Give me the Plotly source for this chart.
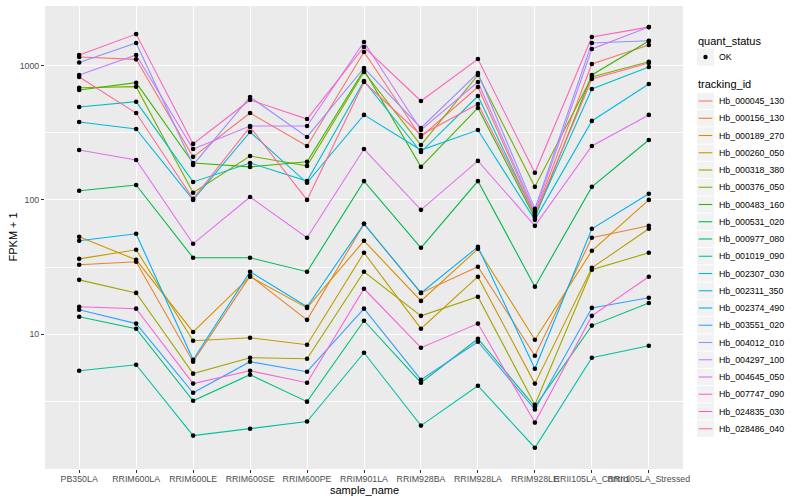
import plotly.graph_objects as go

categories = ["PB350LA", "RRIM600LA", "RRIM600LE", "RRIM600SE", "RRIM600PE",
              "RRIM901LA", "RRIM928BA", "RRIM928LA", "RRIM928LE",
              "RRII105LA_Control", "RRII105LA_Stressed"]

tracking_ids = ["Hb_000045_130", "Hb_000156_130", "Hb_000189_270", "Hb_000260_050",
                "Hb_000318_380", "Hb_000376_050", "Hb_000483_160", "Hb_000531_020",
                "Hb_000977_080", "Hb_001019_090", "Hb_002307_030", "Hb_002311_350",
                "Hb_002374_490", "Hb_003551_020", "Hb_004012_010", "Hb_004297_100",
                "Hb_004645_050", "Hb_007747_090", "Hb_024835_030", "Hb_028486_040"]

colors = ["#F8766D", "#EA8331", "#D89000", "#C09B00", "#A3A500", "#7CAE00", "#39B600",
          "#00BB4E", "#00BF7D", "#00C1A3", "#00BFC4", "#00BAE0", "#00B0F6", "#35A2FF",
          "#9590FF", "#C77CFF", "#E76BF3", "#FA62DB", "#FF62BC", "#FF6C91"]

# FPKM + 1 per sample (order of categories)
hb_000045_130 = [1156, 1112, 209, 443, 252, 1260, 294, 692, 78.7, 1026, 1420]
hb_000156_130 = [32.9, 34.6, 6.25, 27.2, 12.8, 66.3, 20.3, 31.8, 6.92, 52.2, 64.1]
hb_000189_270 = [53.1, 35.8, 10.4, 26.8, 15.7, 49.6, 17.7, 43.2, 9.1, 41.8, 100]
hb_000260_050 = [36.4, 42.5, 8.95, 9.42, 8.36, 40.4, 11.0, 26.8, 4.29, 31.2, 60.9]
hb_000318_380 = [25.4, 20.3, 5.09, 6.69, 6.57, 29.2, 13.7, 19.0, 2.99, 30.2, 40.4]
hb_000376_050 = [684, 696, 113, 212, 179, 895, 256, 850, 125, 821, 1067]
hb_000483_160 = [658, 745, 188, 176, 192, 926, 176, 483, 73.5, 850, 1521]
hb_000531_020 = [117, 129, 37.1, 37.1, 29.2, 138, 44, 138, 22.6, 125, 279]
hb_000977_080 = [13.5, 11.0, 3.20, 5.00, 3.15, 12.6, 4.36, 9.26, 2.89, 11.6, 17.1]
hb_001019_090 = [5.35, 5.93, 1.76, 1.98, 2.24, 7.28, 2.09, 4.14, 1.43, 6.69, 8.21]
hb_002307_030 = [491, 538, 136, 188, 138, 767, 227, 593, 76, 669, 975]
hb_002311_350 = [380, 337, 100, 320, 134, 429, 235, 331, 71, 387, 728]
hb_002374_490 = [49.6, 55.9, 6.46, 29.2, 16.0, 66.3, 20.3, 44.7, 5.54, 60.9, 111]
hb_003551_020 = [15.2, 12.0, 3.67, 6.25, 5.26, 15.5, 4.59, 8.80, 2.75, 15.7, 18.7]
hb_004012_010 = [1052, 1470, 182, 583, 294, 958, 343, 880, 85.7, 1470, 1529]
hb_004297_100 = [850, 1197, 239, 355, 355, 1496, 331, 754, 81.4, 1327, 1932]
hb_004645_050 = [235, 198, 47.1, 105, 52.2, 239, 84.3, 195, 64.1, 252, 429]
hb_007747_090 = [16.0, 15.5, 4.29, 5.35, 4.36, 21.8, 7.94, 12.0, 2.20, 13.7, 26.8]
hb_024835_030 = [1197, 1714, 261, 554, 400, 1373, 545, 1117, 159, 1629, 1932]
hb_028486_040 = [821, 443, 101.7, 349, 100, 754, 304, 517, 77.3, 794, 1044]

series = [hb_000045_130, hb_000156_130, hb_000189_270, hb_000260_050, hb_000318_380,
          hb_000376_050, hb_000483_160, hb_000531_020, hb_000977_080, hb_001019_090,
          hb_002307_030, hb_002311_350, hb_002374_490, hb_003551_020, hb_004012_010,
          hb_004297_100, hb_004645_050, hb_007747_090, hb_024835_030, hb_028486_040]

y_ticks = [10, 100, 1000]
y_tick_labels = ["10", "100", "1000"]
y_minor = [3.1623, 31.623, 316.23]

FONT = "Liberation Sans, Arial, sans-serif"
W, H = 800, 500
ML, MR, MT, MB = 45, 117, 6, 31
PW, PH = W - ML - MR, H - MT - MB


def px(x):
    return (x - ML) / PW


def py(y):
    return (H - MB - y) / PH


fig = go.Figure()
for name, col, vals in zip(tracking_ids, colors, series):
    fig.add_trace(go.Scatter(x=categories, y=vals, mode="lines", name=name,
                             line=dict(color=col, width=1.1), showlegend=False,
                             hoverinfo="skip"))
for name, vals in zip(tracking_ids, series):
    fig.add_trace(go.Scatter(x=categories, y=vals, mode="markers", name=name,
                             marker=dict(color="black", size=4.6), showlegend=False))

shapes = []
annotations = []

# legend: quant_status
annotations.append(dict(text="quant_status", x=px(696), y=py(41), xref="paper", yref="paper",
                        xanchor="left", yanchor="middle", showarrow=False,
                        font=dict(family=FONT, size=11, color="black")))
shapes.append(dict(type="rect", xref="paper", yref="paper", x0=px(697), x1=px(714),
                   y0=py(48.5), y1=py(65.5), fillcolor="#F2F2F2", line=dict(width=0)))
shapes.append(dict(type="circle", xref="paper", yref="paper", x0=px(703.3), x1=px(707.7),
                   y0=py(54.8), y1=py(59.2), fillcolor="black", line=dict(width=0)))
annotations.append(dict(text="OK", x=px(717), y=py(57), xref="paper", yref="paper",
                        xanchor="left", yanchor="middle", showarrow=False,
                        font=dict(family=FONT, size=8.8, color="black")))

# legend: tracking_id
annotations.append(dict(text="tracking_id", x=px(696), y=py(84), xref="paper", yref="paper",
                        xanchor="left", yanchor="middle", showarrow=False,
                        font=dict(family=FONT, size=11, color="black")))
step = 17.25
for i, (name, col) in enumerate(zip(tracking_ids, colors)):
    yc = 101 + step * i
    shapes.append(dict(type="rect", xref="paper", yref="paper", x0=px(697), x1=px(714),
                       y0=py(yc - step / 2 + 0.5), y1=py(yc + step / 2 - 0.5),
                       fillcolor="#F2F2F2", line=dict(width=0)))
    shapes.append(dict(type="line", xref="paper", yref="paper", x0=px(698.7), x1=px(712.3),
                       y0=py(yc), y1=py(yc), line=dict(color=col, width=1.1)))
    annotations.append(dict(text=name, x=px(717), y=py(yc), xref="paper", yref="paper",
                            xanchor="left", yanchor="middle", showarrow=False,
                            font=dict(family=FONT, size=8.8, color="black")))

# axis titles
annotations.append(dict(text="sample_name", x=0.5, y=py(490), xref="paper", yref="paper",
                        xanchor="center", yanchor="middle", showarrow=False,
                        font=dict(family=FONT, size=11, color="black")))
annotations.append(dict(text="FPKM + 1", x=px(12), y=0.5, xref="paper", yref="paper",
                        xanchor="center", yanchor="middle", showarrow=False, textangle=-90,
                        font=dict(family=FONT, size=11, color="black")))

fig.update_layout(
    width=W, height=H,
    margin=dict(l=ML, r=MR, t=MT, b=MB),
    paper_bgcolor="white", plot_bgcolor="#EBEBEB",
    font=dict(family=FONT, size=9, color="#4D4D4D"),
    shapes=shapes, annotations=annotations,
    showlegend=False,
    xaxis=dict(type="category", categoryorder="array", categoryarray=categories,
               range=[-0.6, 10.6], tickmode="array", tickvals=categories, tickangle=0,
               showgrid=True, gridcolor="white", gridwidth=1.07, zeroline=False,
               ticks="outside", ticklen=3, tickwidth=1.07, tickcolor="#333333",
               tickfont=dict(family=FONT, size=8.8, color="#4D4D4D"),
               ticklabelstandoff=-2,
               showline=False, automargin=False),
    yaxis=dict(type="log", range=[-0.003, 3.443], tickmode="array", tickvals=y_ticks,
               ticktext=y_tick_labels, showgrid=True, gridcolor="white", gridwidth=1.07,
               zeroline=False, ticks="outside", ticklen=3, tickwidth=1.07,
               tickcolor="#333333", tickfont=dict(family=FONT, size=8.8, color="#4D4D4D"),
               minor=dict(tickvals=y_minor, showgrid=True, gridcolor="white",
                          gridwidth=0.55, ticks=""),
               showline=False, automargin=False),
)

fig.write_html("out.html",
               config={"displayModeBar": False},
               post_script="document.body.style.margin='0px';"
                           "document.body.style.overflow='hidden';")
